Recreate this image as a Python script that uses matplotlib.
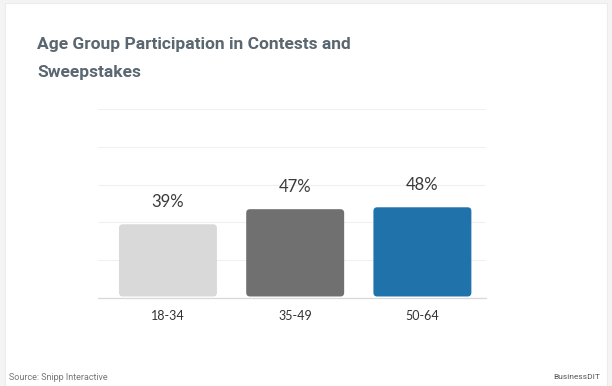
import matplotlib.pyplot as plt
from matplotlib.patches import FancyBboxPatch, Rectangle

categories = ["18-34", "35-49", "50-64"]
values = [39, 47, 48]
labels = ["39%", "47%", "48%"]
colors = ["#d9d9d9", "#707070", "#1f72aa"]

W, H = 612, 386
fig = plt.figure(figsize=(W / 100, H / 100), dpi=100)
fig.patch.set_facecolor("#f4f4f4")

# white card behind everything
card = Rectangle((5 / W, 0 / H), 602 / W, 383 / H, transform=fig.transFigure,
                 facecolor="white", edgecolor="#ececec", linewidth=0.8, zorder=-5)
fig.patches.append(card)

# plot area in pixels: x 98..486, y 109..298 (top-down)
ax = fig.add_axes([98 / W, (H - 298) / H, (486 - 98) / W, (298 - 109) / H])
ax.set_facecolor("none")
x = list(range(len(categories)))
bars = ax.bar(x, values, width=0.77, color=colors)
ax.set_xlim(-0.55, 2.5)
ax.set_ylim(0, 100)
ax.set_yticks([0, 20, 40, 60, 80, 100])
ax.yaxis.grid(True, color="#f0f0f0", linewidth=0.8)
ax.set_axisbelow(True)
ax.tick_params(axis="y", left=False, labelleft=False)
ax.tick_params(axis="x", bottom=False, pad=5, labelsize=9, labelcolor="#333333")
ax.set_xticks(x)
ax.set_xticklabels(categories, fontfamily="Lato")
for s in ["top", "right", "left"]:
    ax.spines[s].set_visible(False)
ax.spines["bottom"].set_color("#d8d8d8")
ax.spines["bottom"].set_linewidth(0.9)

# rounded corners: swap rectangles for rounded boxes of same geometry
for b in bars:
    bx, by, bw, bh = b.get_x(), b.get_y(), b.get_width(), b.get_height()
    b.set_visible(False)
    p = FancyBboxPatch((bx, by + 0.8), bw, bh - 0.8,
                       boxstyle="round,pad=0,rounding_size=0.03",
                       mutation_aspect=68, facecolor=b.get_facecolor(),
                       edgecolor="none", zorder=2)
    ax.add_patch(p)

for xi, v, lab in zip(x, values, labels):
    ax.annotate(lab, (xi, v), xytext=(0, 10), textcoords="offset points",
                ha="center", va="bottom", fontsize=12, color="#3a3a3a",
                fontfamily="Lato")

title_kw = dict(fontsize=12.5, fontweight="bold", color="#5a6670",
                fontfamily="Roboto", va="center", ha="left")
fig.text(37 / W, 1 - 45 / H, "Age Group Participation in Contests and", **title_kw)
fig.text(37 / W, 1 - 73 / H, "Sweepstakes", **title_kw)

fig.text(9 / W, 1 - 377 / H, "Source: Snipp Interactive", fontsize=6.5,
         color="#777777", fontfamily="Roboto", va="center", ha="left")
fig.text(600 / W, 1 - 377 / H, "BusinessDIT", fontsize=6, color="#555555",
         fontfamily="Roboto", va="center", ha="right")

fig.savefig("out.png", dpi=100, facecolor=fig.get_facecolor())
